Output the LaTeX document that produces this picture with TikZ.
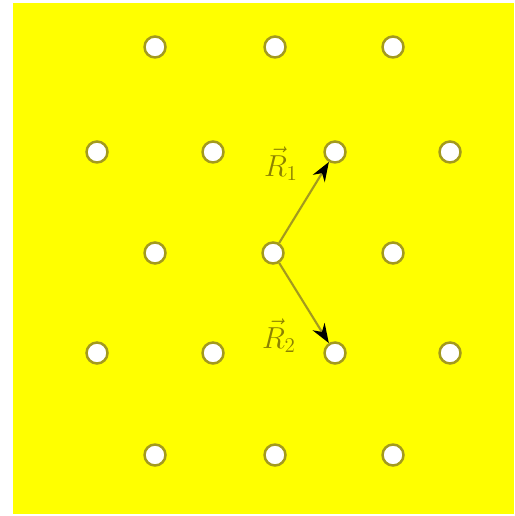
\documentclass[tikz,border=0pt]{standalone}
\usepackage{amsmath}
\usetikzlibrary{arrows.meta}
\definecolor{bgyellow}{HTML}{FFFF00}
\definecolor{olive}{HTML}{A39A1E}
\definecolor{labelolive}{HTML}{8C8200}
\begin{document}
\begin{tikzpicture}[x=0.02cm, y=-0.02cm,
  site/.style={circle, draw=olive, fill=white, line width=1.4pt, minimum size=0.42cm, inner sep=0pt},
  vecline/.style={draw=olive, line width=1.2pt, -{Stealth[length=11pt, width=8pt, black]}},
  veclabel/.style={font=\LARGE, text=labelolive, inner sep=1pt}
]
  \useasboundingbox (0,0) rectangle (514,516);
  \fill[bgyellow] (13,3) rectangle (514,514);

  % lattice sites
  \foreach \x/\y/\n in {155/47/t1, 275/47/t2, 393/47/t3,
                        97/152/u1, 213/152/u2, 335/152/u3, 450/152/u4,
                        155/253/m1, 273/253/m2, 393/253/m3,
                        97/353/l1, 213/353/l2, 335/353/l3, 450/353/l4,
                        155/455/b1, 275/455/b2, 393/455/b3}{
    \node[site] (\n) at (\x,\y) {};
  }

  \draw[vecline] (m2) -- (u3);
  \draw[vecline] (m2) -- (l3);

  \node[veclabel] (R1) at (281,164) {$\vec{R}_1$};
  \node[veclabel] (R2) at (279,336) {$\vec{R}_2$};
\end{tikzpicture}
\end{document}
